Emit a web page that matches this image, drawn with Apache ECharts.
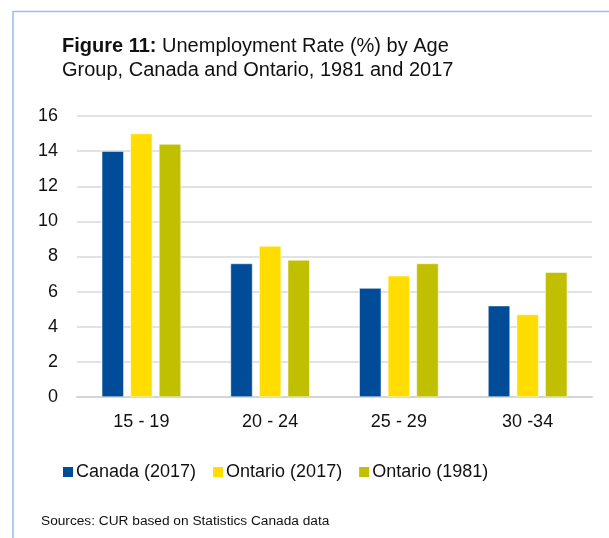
<!DOCTYPE html>
<html>
<head>
<meta charset="utf-8">
<script src="https://cdn.jsdelivr.net/npm/echarts@6/dist/echarts.min.js"></script>
<style>
  html, body { margin: 0; padding: 0; background: #fff; }
  #chart { width: 609px; height: 538px; }
</style>
</head>
<body>
<div id="chart"></div>
<script>
var ageGroups = ['15 - 19', '20 - 24', '25 - 29', '30 -34'];
var canada2017 = [14.0, 7.6, 6.2, 5.2];
var ontario2017 = [15.0, 8.6, 6.9, 4.7];
var ontario1981 = [14.4, 7.8, 7.6, 7.1];

var font = 'Liberation Sans, Arial, sans-serif';

var myChart = echarts.init(document.getElementById('chart'));
var option = {
    backgroundColor: '#fff',
    animation: false,
    textStyle: { fontFamily: font },
    title: {
        left: 57,
        top: 29,
        text: '{b|Figure 11:} Unemployment Rate (%) by Age\nGroup, Canada and Ontario, 1981 and 2017',
        textStyle: {
            color: '#111',
            fontSize: 20,
            fontWeight: 'normal',
            fontFamily: font,
            lineHeight: 24,
            rich: {
                b: { fontWeight: 'bold', fontSize: 20, color: '#111', fontFamily: font, lineHeight: 24 }
            }
        }
    },
    legend: {
        left: 56,
        top: 458,
        icon: 'rect',
        itemWidth: 12,
        itemHeight: 12,
        itemGap: 15,
        textStyle: { fontSize: 18, color: '#111', fontFamily: font, padding: [0, 0, 0, -3] },
        data: ['Canada (2017)', 'Ontario (2017)', 'Ontario (1981)']
    },
    grid: {
        left: 77,
        right: 17,
        top: 116,
        bottom: 141
    },
    xAxis: {
        type: 'category',
        data: ageGroups,
        axisLine: { lineStyle: { color: '#d4d4d4', width: 2 } },
        axisTick: { show: false },
        axisLabel: { fontSize: 18, color: '#111', margin: 16, fontFamily: font }
    },
    yAxis: {
        type: 'value',
        min: 0,
        max: 16,
        interval: 2,
        axisLine: { show: false },
        axisTick: { show: false },
        axisLabel: { fontSize: 18, color: '#111', margin: 19, fontFamily: font },
        splitLine: { lineStyle: { color: '#d9d9d9', width: 1.5 } }
    },
    series: [
        {
            name: 'Canada (2017)',
            type: 'bar',
            data: canada2017,
            barWidth: 22,
            barGap: '30%',
            itemStyle: { color: '#004c99', borderColor: '#fff', borderWidth: 0.5 }
        },
        {
            name: 'Ontario (2017)',
            type: 'bar',
            data: ontario2017,
            barWidth: 22,
            barGap: '30%',
            itemStyle: { color: '#ffdd00', borderColor: '#fff', borderWidth: 0.5 }
        },
        {
            name: 'Ontario (1981)',
            type: 'bar',
            data: ontario1981,
            barWidth: 22,
            barGap: '30%',
            itemStyle: { color: '#c0bf00', borderColor: '#fff', borderWidth: 0.5 }
        }
    ],
    graphic: [
        {
            type: 'polyline',
            shape: { points: [[13, 538], [13, 11.5], [609, 11.5]] },
            style: { stroke: '#9dbde6', lineWidth: 1.5, fill: null },
            silent: true
        },
        {
            type: 'text',
            left: 41,
            top: 514,
            style: {
                text: 'Sources: CUR based on Statistics Canada data',
                fontSize: 13.7,
                fill: '#111',
                fontFamily: font
            }
        }
    ]
};
myChart.setOption(option);
</script>
</body>
</html>
